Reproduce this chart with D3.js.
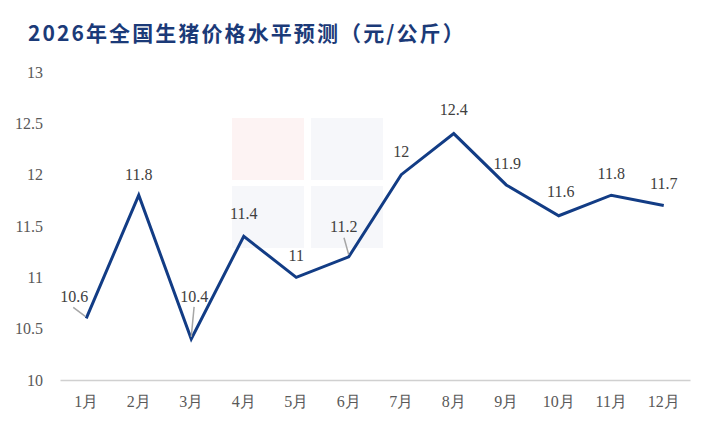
<!DOCTYPE html>
<html><head><meta charset="utf-8">
<script src="https://cdn.jsdelivr.net/npm/d3@7"></script>
<style>html,body{margin:0;padding:0;background:#fff;}svg{display:block;}
.serif{font-family:"Liberation Serif","DejaVu Serif",serif;}</style>
</head><body>
<svg id="chart" width="712" height="427"></svg>
<script>
const title = "2026年全国生猪价格水平预测（元/公斤）";
const months = ["1月","2月","3月","4月","5月","6月","7月","8月","9月","10月","11月","12月"];
const prices = [10.6, 11.8, 10.4, 11.4, 11, 11.2, 12, 12.4, 11.9, 11.6, 11.8, 11.7];
const yTicks = [10, 10.5, 11, 11.5, 12, 12.5, 13];
// label offsets (dx, dy) relative to the point, leader flag
const labelOffsets = [[-12,-22,true],[0,-21,false],[3,-43,true],[0,-23,false],[0,-22,false],[-5,-30,true],[0,-23,false],[0,-24,false],[1,-22,false],[2,-24,false],[0,-22,false],[0,-22,false]];

const svg = d3.select("#chart");
const W = 712, H = 427;
const m = {left: 60, right: 22, top: 72, bottom: 47};
const x = d3.scaleBand().domain(months).range([m.left, W - m.right]);
const y = d3.scaleLinear().domain([10, 13]).range([H - m.bottom, m.top]);

// faint watermark blocks
const wm = svg.append("g");
[[232,118,"#fdf3f3"],[311,118,"#f6f7fa"],[232,186,"#f6f7fa"],[311,186,"#f6f7fa"]].forEach(b => {
  wm.append("rect").attr("x", b[0]).attr("y", b[1]).attr("width", 72).attr("height", 62).attr("fill", b[2]);
});

// title
svg.append("text").attr("x", 28).attr("y", 41).attr("font-family", "Noto Sans CJK SC").attr("font-weight", "bold")
  .attr("font-size", 21).attr("letter-spacing", 2.1).attr("fill", "#1b3a78").text(title);

// y axis labels
svg.append("g").selectAll("text").data(yTicks).join("text").attr("class", "serif")
  .attr("x", 43).attr("y", d => y(d)).attr("dy", "0.35em").attr("text-anchor", "end")
  .attr("font-size", 16).attr("fill", "#595959")
  .text(d => d);

// x axis
const xAxis = svg.append("g").attr("transform", `translate(0,${y(10)})`)
  .call(d3.axisBottom(x).tickSize(0).tickPadding(16));
xAxis.attr("font-family", null);
xAxis.select(".domain").attr("stroke", "#d0d0d0").attr("stroke-width", 1.5);
xAxis.selectAll("text").attr("class", "serif").attr("font-size", 16).attr("fill", "#595959");

// line
const cx = (d, i) => x(months[i]) + x.bandwidth() / 2;
svg.append("path").datum(prices)
  .attr("fill", "none").attr("stroke", "#123c85").attr("stroke-width", 3).attr("stroke-linejoin", "miter")
  .attr("d", d3.line().x(cx).y(d => y(d)));

// labels
const lg = svg.append("g");
prices.forEach((d, i) => {
  const px = cx(d, i), py = y(d);
  const [dx, dy, leader] = labelOffsets[i];
  if (leader) {
    let x1 = px + dx * 0.95, y1 = py + dy + 11;
    if (i === 0) { x1 = px - 13; y1 = py - 11; }
    lg.append("line").attr("x1", x1).attr("y1", y1).attr("x2", px - (i===0?1:0)).attr("y2", py - 2)
      .attr("stroke", "#a6a6a6").attr("stroke-width", 1.5);
  }
  lg.append("text").attr("class", "serif").attr("x", px + dx).attr("y", py + dy).attr("dy", "0.35em").attr("text-anchor", "middle")
    .attr("font-size", 16).attr("fill", "#404040")
    .text(d);
});
</script>
</body></html>
